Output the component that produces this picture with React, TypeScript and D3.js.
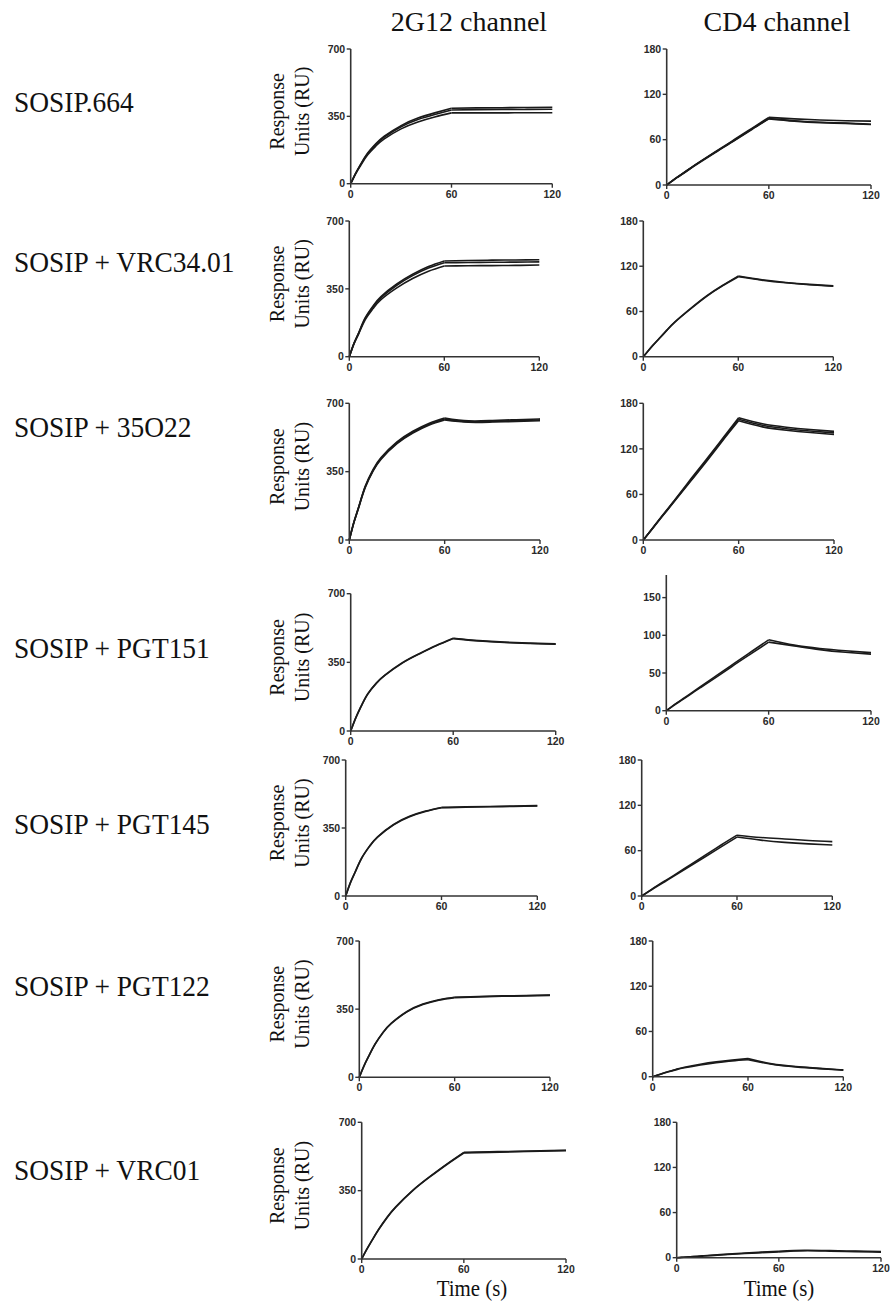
import React from 'react';
import * as d3 from 'd3';

// sample times (s): association 0-60, dissociation 60-120
const times = [0, 3, 6, 10, 15, 20, 30, 40, 50, 60, 75, 90, 105, 120];

const rowLabels = [
  'SOSIP.664',
  'SOSIP + VRC34.01',
  'SOSIP + 35O22',
  'SOSIP + PGT151',
  'SOSIP + PGT145',
  'SOSIP + PGT122',
  'SOSIP + VRC01',
];

const leftTicks = [0, 350, 700];
const rightTicks = [0, 60, 120, 180];
const rightTicksAlt = [0, 50, 100, 150];
const xTicks = [0, 60, 120];

// 2G12 channel traces (RU)
const g2_664 = [
  [0, 55, 102, 158, 208, 247, 302, 341, 368, 392, 394, 395, 396, 397],
  [0, 54, 100, 155, 204, 242, 296, 334, 360, 383, 385, 386, 386, 387],
  [0, 52, 96, 149, 196, 233, 285, 321, 347, 368, 368, 368, 369, 369],
];
const g2_vrc34 = [
  [0, 70, 125, 200, 262, 310, 375, 425, 465, 494, 496, 498, 499, 500],
  [0, 69, 123, 196, 257, 304, 368, 418, 457, 485, 486, 487, 488, 489],
  [0, 67, 119, 190, 248, 294, 355, 403, 441, 468, 469, 470, 471, 473],
];
const g2_35o22 = [
  [0, 95, 172, 275, 362, 422, 502, 557, 597, 625, 610, 612, 616, 620],
  [0, 93, 170, 271, 357, 417, 497, 552, 592, 619, 606, 607, 611, 615],
  [0, 92, 168, 268, 354, 414, 493, 548, 588, 615, 603, 604, 607, 611],
];
const g2_pgt151 = [
  [0, 68, 125, 190, 245, 285, 347, 394, 436, 473, 461, 453, 448, 444],
  [0, 67, 123, 188, 243, 283, 345, 392, 434, 471, 459, 451, 446, 442],
];
const g2_pgt145 = [
  [0, 70, 125, 196, 258, 305, 368, 410, 437, 456, 459, 461, 463, 465],
  [0, 69, 124, 194, 256, 303, 366, 408, 435, 454, 457, 459, 461, 463],
];
const g2_pgt122 = [
  [0, 60, 110, 172, 232, 277, 338, 376, 398, 411, 415, 418, 420, 423],
  [0, 59, 109, 171, 230, 275, 336, 374, 396, 409, 413, 416, 418, 421],
];
const g2_vrc01 = [
  [0, 50, 95, 153, 215, 267, 352, 422, 486, 546, 549, 551, 554, 557],
  [0, 49, 94, 151, 213, 265, 350, 420, 484, 543, 546, 549, 552, 555],
];

// CD4 channel traces (RU)
const cd4_664 = [
  [0, 5, 10, 16.2, 24, 31.5, 46, 60.5, 75, 89.5, 87.5, 86, 85, 84.5],
  [0, 5, 10, 16, 23.8, 31.2, 45.5, 59.5, 74, 88, 85, 83, 82, 80.5],
  [0, 4.8, 9.7, 15.6, 23.4, 30.8, 45, 59, 73.5, 87.5, 84.5, 82.5, 81.5, 80],
];
const cd4_vrc34 = [
  [0, 7.6, 15, 24.2, 35.6, 46.4, 64.2, 80.7, 94.5, 107, 102, 98.5, 96, 94],
  [0, 7.5, 14.8, 23.9, 35.2, 45.9, 63.6, 80.1, 93.9, 106, 101.5, 98, 95.5, 93.5],
];
const cd4_35o22 = [
  [0, 8, 16, 27, 40, 53.5, 80.5, 107, 134, 161, 153, 148.5, 145.5, 143],
  [0, 7.8, 15.6, 26, 39, 52, 78, 104, 131, 157, 149, 144.5, 141.5, 139],
  [0, 7.9, 15.8, 26.5, 39.5, 52.8, 79, 105.5, 132.5, 159, 151, 146.5, 143.5, 141],
];
const cd4_pgt151 = [
  [0, 5, 10, 16.2, 24, 32, 47.5, 63, 78.5, 94, 87, 82.5, 79.5, 77],
  [0, 4.8, 9.6, 15.4, 23, 30.5, 45.5, 61, 76, 91, 86, 81, 77.5, 75],
];
const cd4_pgt145 = [
  [0, 4.2, 8.4, 14, 20.5, 27, 40.5, 54, 67.5, 80.5, 77.5, 75.5, 73.5, 72],
  [0, 4, 8, 13.3, 19.6, 26, 39, 52, 65, 78, 74, 71, 69, 67.5],
];
const cd4_pgt122 = [
  [0, 2.2, 4.3, 7, 10, 12.6, 16.6, 19.7, 22, 24, 17, 13.5, 11, 9],
  [0, 2, 4, 6.6, 9.4, 11.8, 15.6, 18.6, 21, 22.5, 16.5, 13, 10.7, 8.7],
];
const cd4_vrc01 = [
  [0, 0.5, 1, 1.6, 2.4, 3.2, 4.7, 6.1, 7.4, 8.6, 9.8, 9.4, 8.8, 8.3],
  [0, 0.4, 0.9, 1.4, 2.1, 2.8, 4.2, 5.5, 6.7, 7.8, 9.2, 8.7, 8.1, 7.4],
];

const leftTraces = [g2_664, g2_vrc34, g2_35o22, g2_pgt151, g2_pgt145, g2_pgt122, g2_vrc01];
const rightTraces = [cd4_664, cd4_vrc34, cd4_35o22, cd4_pgt151, cd4_pgt145, cd4_pgt122, cd4_vrc01];

// plot frames: [xLeft, xRight, yTop, yZero]
const leftBoxes = [
  [350.7, 552.3, 49, 183.7],
  [349.3, 539.3, 221, 356.7],
  [349.3, 540, 403.3, 540],
  [350.7, 555.7, 593.7, 731],
  [345.7, 537.3, 760, 896],
  [359.3, 550, 941, 1077.3],
  [361.7, 566, 1122.3, 1259],
];
const rightBoxes = [
  [666.7, 871, 49, 185],
  [643.3, 833.3, 221, 356.7],
  [643.3, 834, 403.3, 540],
  [666.3, 871, 575, 710.7],
  [641.7, 832.3, 760, 896],
  [652.7, 843.3, 941, 1076.7],
  [676.7, 881, 1122.3, 1257.7],
];
const rowLabelY = [112, 272, 437, 658, 834, 996, 1180];

const serif = '"Liberation Serif", "Times New Roman", serif';
const sans = '"Liberation Sans", Arial, sans-serif';
const axisColor = '#333';

type PanelProps = { box: number[]; yMax: number; yTicks: number[]; traces: number[][] };

const Panel = ({ box, yMax, yTicks, traces }: PanelProps) => {
  const [x0, x1, yTop, yZero] = box;
  const x = d3.scaleLinear().domain([0, 120]).range([x0, x1]);
  const y = d3.scaleLinear().domain([0, yMax]).range([yZero, yTop]);
  const line = d3
    .line<[number, number]>()
    .x((d) => x(d[0]))
    .y((d) => y(d[1]))
    .curve(d3.curveNatural);

  return (
    <g>
      {traces.map((tr, i) => {
        const pts: [number, number][] = times.map((t, j) => [t, tr[j]]);
        const assoc = pts.slice(0, 10);
        const dissoc = pts.slice(9);
        return (
          <g key={i} fill="none" stroke="#1a1a1a" strokeWidth={1.6} strokeLinejoin="round">
            <path d={line(assoc) || ''} />
            <path d={line(dissoc) || ''} />
          </g>
        );
      })}
      {/* axes */}
      <line x1={x0} x2={x0} y1={yTop} y2={yZero} stroke={axisColor} strokeWidth={1.6} />
      <line x1={x0} x2={x1} y1={yZero} y2={yZero} stroke={axisColor} strokeWidth={1.6} />
      {yTicks.map((v) => (
        <g key={'y' + v}>
          <line x1={x0 - 4} x2={x0} y1={y(v)} y2={y(v)} stroke={axisColor} strokeWidth={1.4} />
          <text
            x={x0 - 5.5}
            y={y(v)}
            dy="0.36em"
            textAnchor="end"
            fontFamily={sans}
            fontWeight="bold"
            fontSize={10.5}
            fill="#2a2a2a"
          >
            {v}
          </text>
        </g>
      ))}
      {xTicks.map((v) => (
        <g key={'x' + v}>
          <line x1={x(v)} x2={x(v)} y1={yZero} y2={yZero + 4} stroke={axisColor} strokeWidth={1.4} />
          <text
            x={x(v)}
            y={yZero + 14}
            textAnchor="middle"
            fontFamily={sans}
            fontWeight="bold"
            fontSize={10.5}
            fill="#2a2a2a"
          >
            {v}
          </text>
        </g>
      ))}
    </g>
  );
};

const App = () => {
  const width = 891;
  const height = 1302;
  return (
    <svg
      width={width}
      height={height}
      style={{ position: 'absolute', left: 0, top: 0, background: '#fff' }}
    >
      <rect width={width} height={height} fill="#fff" />
      <text x={469} y={31} textAnchor="middle" fontFamily={serif} fontSize={28} fill="#111">
        2G12 channel
      </text>
      <text x={777} y={31} textAnchor="middle" fontFamily={serif} fontSize={28} fill="#111">
        CD4 channel
      </text>

      {rowLabels.map((lab, i) => (
        <text
          key={lab}
          transform={`translate(14,${rowLabelY[i]}) scale(0.93,1)`}
          fontFamily={serif}
          fontSize={29.5}
          fill="#111"
        >
          {lab}
        </text>
      ))}

      {leftBoxes.map((b, i) => {
        const cy = (b[2] + b[3]) / 2 - 5;
        return (
          <g key={'yl' + i} fontFamily={serif} fontSize={20} fill="#111" textAnchor="middle">
            <text transform={`translate(284,${cy}) rotate(-90)`}>Response</text>
            <text transform={`translate(309,${cy}) rotate(-90)`}>Units (RU)</text>
          </g>
        );
      })}

      {leftBoxes.map((b, i) => (
        <Panel key={'l' + i} box={b} yMax={700} yTicks={leftTicks} traces={leftTraces[i]} />
      ))}
      {rightBoxes.map((b, i) => (
        <Panel
          key={'r' + i}
          box={b}
          yMax={180}
          yTicks={i === 3 ? rightTicksAlt : rightTicks}
          traces={rightTraces[i]}
        />
      ))}

      <text
        transform="translate(472,1296) scale(0.87,1)"
        textAnchor="middle"
        fontFamily={serif}
        fontSize={24}
        fill="#111"
      >
        Time (s)
      </text>
      <text
        transform="translate(779,1296) scale(0.87,1)"
        textAnchor="middle"
        fontFamily={serif}
        fontSize={24}
        fill="#111"
      >
        Time (s)
      </text>
    </svg>
  );
};

export default App;
